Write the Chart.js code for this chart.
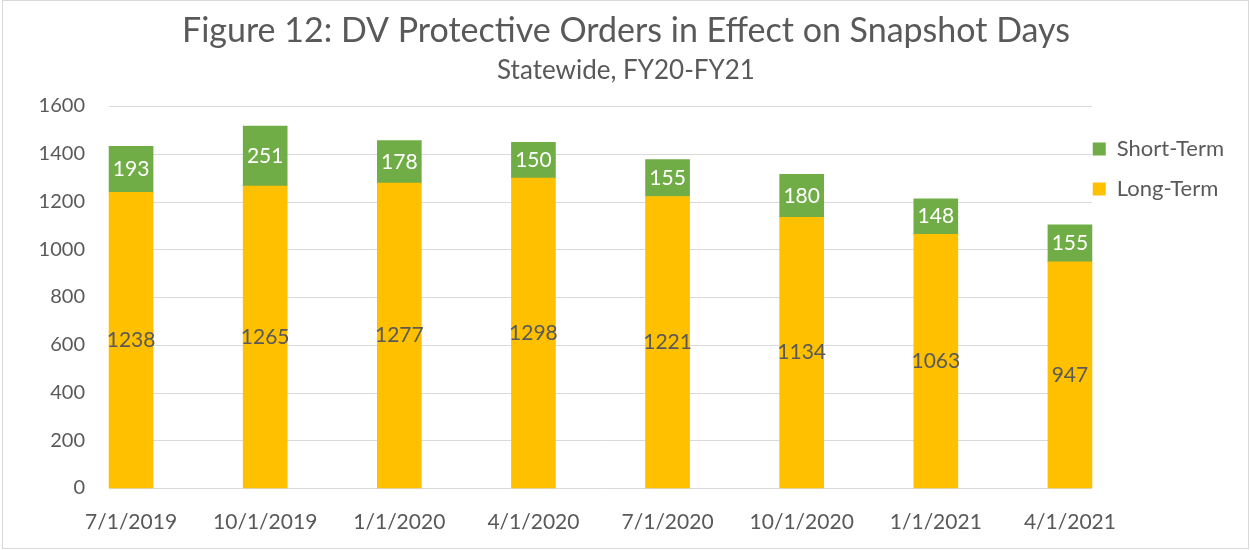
<!DOCTYPE html>
<html><head><meta charset="utf-8">
<script src="https://cdn.jsdelivr.net/npm/chart.js@4.4.1/dist/chart.umd.min.js"></script>
<style>html,body{margin:0;padding:0;background:#fff;overflow:hidden}#wrap{position:relative;width:1250px;height:550px}</style>
</head><body><div id="wrap"><canvas id="c" width="1250" height="550"></canvas></div>
<script>
const categories = ['7/1/2019','10/1/2019','1/1/2020','4/1/2020','7/1/2020','10/1/2020','1/1/2021','4/1/2021'];
const longTerm = [1238,1265,1277,1298,1221,1134,1063,947];
const shortTerm = [193,251,178,150,155,180,148,155];
const yMin = 0, yMax = 1600, yStep = 200;
const titleText = 'Figure 12: DV Protective Orders in Effect on Snapshot Days';
const subtitleText = 'Statewide, FY20-FY21';

const TEXT = '#595959', GRID = '#D9D9D9', GREEN = '#70AD47', GOLD = '#FFC000';
const FONT = 'Lato';

const xSpan = { id:'xSpan', afterLayout(chart){
  const s = chart.scales.x;
  s._startPixel = 64; s._endPixel = 1137; s._length = 1073;
}};
const gridPlugin = { id:'gridPlugin', beforeDatasetsDraw(chart){
  const ys = chart.scales.y, els = chart.getDatasetMeta(0).data;
  const x1 = els[0].x - els[0].width/2, last = els[els.length-1], x2 = last.x + last.width/2;
  const ctx = chart.ctx; ctx.save(); ctx.strokeStyle = GRID; ctx.lineWidth = 1;
  ys.ticks.forEach(t => { const py = Math.round(ys.getPixelForValue(t.value)) + 0.5;
    ctx.beginPath(); ctx.moveTo(x1, py); ctx.lineTo(x2, py); ctx.stroke(); });
  ctx.restore();
}};
const labelPlugin = { id:'labelPlugin', afterDatasetsDraw(chart){
  const ctx = chart.ctx; ctx.save();
  ctx.font = '21px ' + FONT; ctx.textAlign = 'center'; ctx.textBaseline = 'middle';
  chart.data.datasets.forEach((ds, di) => {
    chart.getDatasetMeta(di).data.forEach((el, i) => {
      ctx.fillStyle = ds.labelColor;
      ctx.fillText(String(ds.data[i]), el.x, (el.y + el.base)/2);
    });
  });
  ctx.restore();
}};
const borderPlugin = { id:'borderPlugin', afterDraw(chart){
  const ctx = chart.ctx; ctx.save(); ctx.strokeStyle = GRID; ctx.lineWidth = 1;
  ctx.strokeRect(2.5, 0.5, 1246, 548); ctx.restore();
}};

new Chart(document.getElementById('c'), {
  type: 'bar',
  data: { labels: categories, datasets: [
    { label:'Long-Term', data: longTerm, backgroundColor: GOLD, labelColor: TEXT, barThickness: 44, clip: false },
    { label:'Short-Term', data: shortTerm, backgroundColor: GREEN, labelColor: '#FFFFFF', barThickness: 44, clip: false }
  ]},
  options: {
    responsive: false, animation: false, devicePixelRatio: 1,
    layout: { padding: { left: 18, right: 16, top: 0, bottom: 0 } },
    plugins: {
      title: { display: true, text: titleText, color: TEXT, font: { family: FONT, size: 34, weight: 'normal', lineHeight: 1.2 }, padding: { top: 10.6, bottom: 0 } },
      subtitle: { display: true, text: subtitleText, color: TEXT, font: { family: FONT, size: 26, weight: 'normal', lineHeight: 1.2 }, padding: { top: 4, bottom: 19.4 } },
      legend: { position: 'right', align: 'start', reverse: true, fullSize: false,
        title: { display: true, text: '', font: { size: 1, lineHeight: 1 }, padding: { top: 0, bottom: 13 } },
        labels: { boxWidth: 13, boxHeight: 13, padding: 18, color: TEXT, font: { family: FONT, size: 22 } } },
      tooltip: { enabled: false }
    },
    scales: {
      x: { stacked: true, offset: true, grid: { display: false, drawTicks: false }, border: { display: false },
        ticks: { padding: 22, color: TEXT, autoSkip: false, maxRotation: 0, font: { family: FONT, size: 21 } },
        afterFit(s){ s.height = 62; } },
      y: { stacked: true, min: yMin, max: yMax, grid: { display: false, drawTicks: false }, border: { display: false },
        ticks: { stepSize: yStep, padding: 24, color: TEXT, font: { family: FONT, size: 20 }, callback: v => String(v) },
        afterFit(s){ s.width = 91; } }
    }
  },
  plugins: [xSpan, gridPlugin, labelPlugin, borderPlugin]
});
</script></body></html>
